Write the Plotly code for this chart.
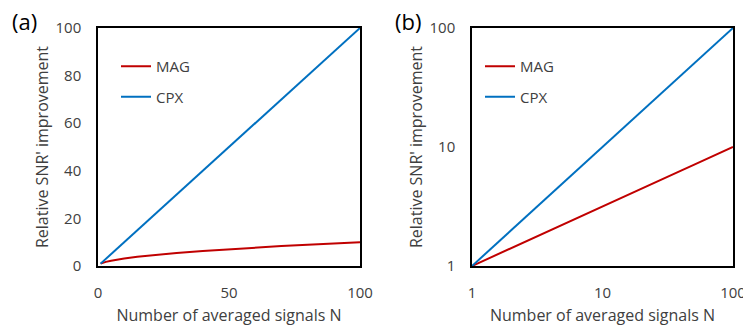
import plotly.graph_objects as go

N = [1, 2, 3, 5, 7, 10, 15, 20, 25, 30, 40, 50, 60, 70, 80, 90, 100]
MAG = [1.0, 1.41, 1.73, 2.24, 2.65, 3.16, 3.87, 4.47, 5.0, 5.48, 6.32, 7.07, 7.75, 8.37, 8.94, 9.49, 10.0]
CPX = [1, 2, 3, 5, 7, 10, 15, 20, 25, 30, 40, 50, 60, 70, 80, 90, 100]

RED = "#C00000"
BLUE = "#0070C0"
TXT = "#404040"
FONT = "Open Sans"

fig = go.Figure()
for xa, ya, leg in [("x", "y", "legend"), ("x2", "y2", "legend2")]:
    fig.add_trace(go.Scatter(x=N, y=MAG, mode="lines", name="MAG", line=dict(color=RED, width=2),
                             xaxis=xa, yaxis=ya, legend=leg, legendgroup=leg + "m"))
    fig.add_trace(go.Scatter(x=N, y=CPX, mode="lines", name="CPX", line=dict(color=BLUE, width=2),
                             xaxis=xa, yaxis=ya, legend=leg, legendgroup=leg + "c"))

W, H = 743, 326
def px(v): return v / W
def py(v): return 1 - v / H

axx = dict(showline=True, linecolor="black", linewidth=1.5, mirror=True, showgrid=False, automargin=False,
           zeroline=False, ticks="outside", ticklen=12, tickcolor="rgba(0,0,0,0)", ticklabeloverflow="allow",
           tickfont=dict(family=FONT, size=15, color=TXT))
axy = dict(axx)
ytitle = dict(text="Relative SNR' improvement", font=dict(family=FONT, size=16, color=TXT), standoff=3)
xtitle = dict(text="Number of averaged signals N", font=dict(family=FONT, size=16, color=TXT), standoff=12)

legcommon = dict(font=dict(family=FONT, size=15, color=TXT), bgcolor="rgba(0,0,0,0)",
                 tracegroupgap=8, itemwidth=30, xanchor="left", yanchor="top")

fig.update_layout(
    width=W, height=H, margin=dict(l=0, r=0, t=0, b=0),
    paper_bgcolor="white", plot_bgcolor="white",
    xaxis=dict(domain=[px(98), px(360)], range=[0, 100], tickvals=[0, 50, 100], anchor="y",
               title=xtitle, **axx),
    yaxis=dict(domain=[py(266), py(28)], range=[0, 100], tickvals=[0, 20, 40, 60, 80, 100], anchor="x",
               title=ytitle, **axy),
    xaxis2=dict(domain=[px(472), px(733)], type="log", range=[0, 2], tickvals=[1, 10, 100], anchor="y2",
                title=xtitle, **axx),
    yaxis2=dict(domain=[py(266), py(28)], type="log", range=[0, 2], tickvals=[1, 10, 100], anchor="x2",
                title=ytitle, **axy),
    legend=dict(x=px(116), y=py(50), **legcommon),
    legend2=dict(x=px(480), y=py(50), **legcommon),
    annotations=[
        dict(text="(a)", x=px(10), y=py(4), xref="paper", yref="paper", xanchor="left", yanchor="top",
             showarrow=False, font=dict(family=FONT, size=22, color="black")),
        dict(text="(b)", x=px(393), y=py(4), xref="paper", yref="paper", xanchor="left", yanchor="top",
             showarrow=False, font=dict(family=FONT, size=22, color="black")),
    ],
)

fig.write_html("out.html")
